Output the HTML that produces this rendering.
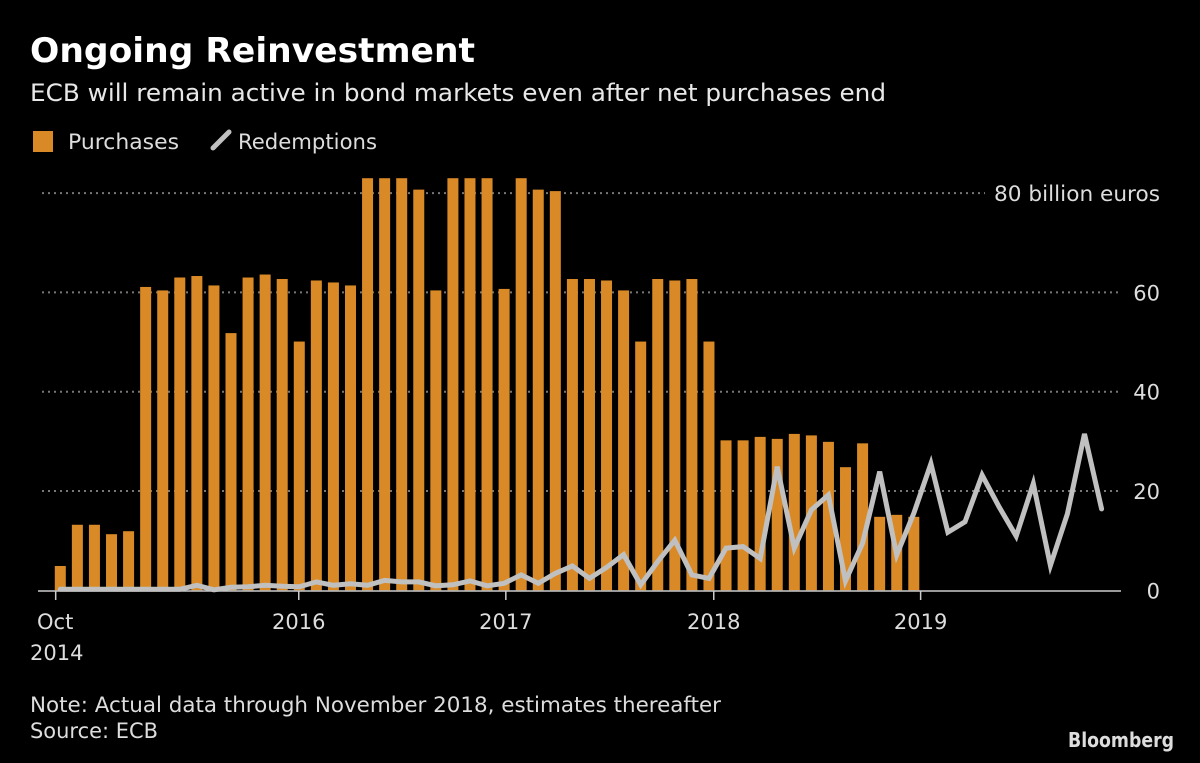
<!DOCTYPE html>
<html><head><meta charset="utf-8">
<style>
html,body{margin:0;padding:0;background:#000;}
body{width:1200px;height:763px;overflow:hidden;position:relative;}
svg text{font-family:"DejaVu Sans","Liberation Sans",sans-serif;}
</style></head>
<body>
<svg id="chart" width="1200" height="763" style="position:absolute;left:0;top:0;">
<text x="30" y="62" font-size="34" font-weight="bold" fill="#fff" textLength="445" lengthAdjust="spacingAndGlyphs">Ongoing Reinvestment</text>
<text x="30" y="101" font-size="24" fill="#e8e8e8" textLength="856" lengthAdjust="spacingAndGlyphs">ECB will remain active in bond markets even after net purchases end</text>
<rect x="33" y="131" width="20" height="21" fill="#d98a26"/>
<text x="68" y="149" font-size="21" fill="#ddd" textLength="111" lengthAdjust="spacingAndGlyphs">Purchases</text>
<line x1="213" y1="148" x2="229" y2="132" stroke="#c0c0c0" stroke-width="5" stroke-linecap="round"/>
<text x="238" y="149" font-size="21" fill="#ddd" textLength="139" lengthAdjust="spacingAndGlyphs">Redemptions</text>
<text x="30" y="712" font-size="21" fill="#ddd" textLength="691" lengthAdjust="spacingAndGlyphs">Note: Actual data through November 2018, estimates thereafter</text>
<text x="30" y="738" font-size="21" fill="#ddd" textLength="128" lengthAdjust="spacingAndGlyphs">Source: ECB</text>
<text x="1068" y="747" font-size="20" font-weight="bold" fill="#ddd" textLength="106" lengthAdjust="spacingAndGlyphs">Bloomberg</text>
</svg>
<script>
const purchases=[4.9,13.2,13.2,11.3,11.9,61.1,60.4,63.0,63.3,61.4,51.8,63.0,63.6,62.7,50.1,62.4,62.0,61.4,83,83,83,80.7,60.4,83,83,83,60.7,83,80.7,80.4,62.7,62.7,62.4,60.4,50.1,62.7,62.4,62.7,50.1,30.2,30.2,30.9,30.5,31.5,31.2,29.9,24.8,29.6,14.8,15.2,14.8];
const redemptions=[0.2,0.2,0.2,0.2,0.2,0.2,0.2,0.2,1.0,0.1,0.6,0.7,1.0,0.8,0.7,1.7,1.0,1.3,1.0,2.0,1.7,1.7,0.9,1.1,1.9,0.9,1.4,3.1,1.4,3.4,4.9,2.4,4.6,7.2,1.1,5.8,10.1,3.1,2.4,8.5,8.8,6.4,24.9,8.5,16.2,19.2,1.9,9.5,23.9,7.1,15.5,25.5,11.7,13.8,23.2,16.8,10.9,21.5,5.0,15.4,31.5,16.4];
const yTicks=[0,20,40,60,80];
const yTickLabels=["0","20","40","60","80 billion euros"];
const xTickIdx=[-0.27,13.97,26.1,38.28,50.4];
const xTickLabels=["Oct","2016","2017","2018","2019"];
const NS="http://www.w3.org/2000/svg";
const svg=document.getElementById('chart');
const x=i=>60.3+i*17.07;
const y=v=>590.3-v*4.965;
function mk(t,a){const e=document.createElementNS(NS,t);for(const k in a)e.setAttribute(k,a[k]);svg.appendChild(e);return e;}
yTicks.forEach((v,k)=>{
  if(v>0){const g=mk('line',{x1:42,x2:v===80?985:1121,y1:y(v),y2:y(v),stroke:'#777','stroke-width':2,'stroke-dasharray':'2,4'});
  
  }
  const t=mk('text',{x:1160,y:y(v)+8,'text-anchor':'end','font-size':21,fill:'#ddd'});
  t.textContent=yTickLabels[k];
  if(v===80){t.setAttribute('textLength',166);t.setAttribute('lengthAdjust','spacingAndGlyphs');}
  
  
});
purchases.forEach((v,i)=>{
  const r=mk('rect',{x:x(i)-5.5,y:y(v),width:11,height:y(0)-y(v),fill:'#d98a26'});
  
  
});
const ax=mk('line',{x1:38,x2:1121,y1:591,y2:591,stroke:'#ccc','stroke-width':1.5});


xTickIdx.forEach((idx,k)=>{
  const tx=x(idx);
  const tl=mk('line',{x1:tx,x2:tx,y1:591,y2:600,stroke:'#ccc','stroke-width':1.5});
  
  
  const t=mk('text',{x:k===0?37:tx,y:629,'text-anchor':k===0?'start':'middle','font-size':21,fill:'#ddd'});
  t.textContent=xTickLabels[k];
  
  
});
const t2=mk('text',{x:30,y:660,'font-size':21,fill:'#ddd'});
t2.textContent='2014';


const pts=redemptions.map((v,i)=>x(i).toFixed(1)+','+y(v).toFixed(1)).join(' ');
const pl=mk('polyline',{points:pts,fill:'none',stroke:'#c0c0c0','stroke-width':5,'stroke-linejoin':'miter','stroke-linecap':'round'});


</script>
</body></html>
